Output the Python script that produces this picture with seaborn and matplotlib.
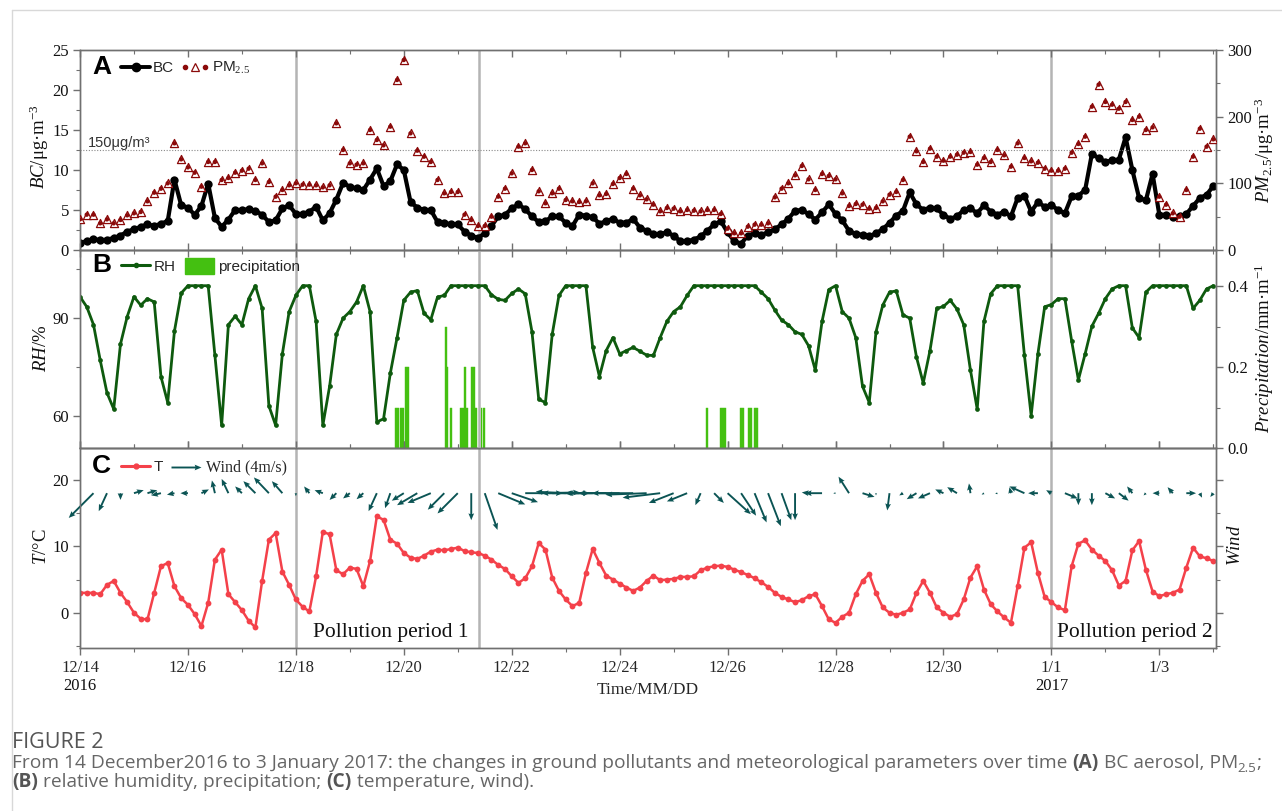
import numpy as np
import pandas as pd
import matplotlib
matplotlib.use("Agg")
import matplotlib.pyplot as plt
import seaborn as sns
from matplotlib.lines import Line2D
from matplotlib.patches import Patch
from matplotlib.legend_handler import HandlerTuple
from matplotlib.ticker import MultipleLocator, FixedLocator, FormatStrFormatter
import matplotlib.transforms as mtrans

# ---------------- data (3-hourly, days since 2016-12-14 00:00) ----------------
STEP_DAYS = 0.125

BC = [
    0.9, 1.1, 1.4, 1.2, 1.3, 1.5, 1.8, 2.3,
    2.6, 2.9, 3.2, 3.0, 3.3, 3.6, 8.8, 5.6,
    5.3, 4.4, 5.5, 8.3, 4.0, 2.9, 3.8, 5.0,
    5.0, 5.1, 4.9, 4.4, 3.5, 3.7, 5.2, 5.6,
    4.5, 4.5, 4.8, 5.4, 3.7, 4.6, 6.3, 8.4,
    7.9, 7.7, 7.5, 8.8, 10.2, 8.0, 8.6, 10.7,
    10.0, 6.0, 5.3, 5.0, 5.0, 3.5, 3.4, 3.2,
    3.2, 2.3, 1.8, 1.5, 2.1, 3.0, 4.2, 4.4,
    5.2, 5.7, 5.1, 4.2, 3.5, 3.6, 4.2, 4.2,
    3.4, 3.0, 4.4, 4.3, 4.1, 3.3, 3.6, 3.9,
    3.4, 3.4, 3.9, 2.8, 2.4, 2.0, 2.0, 2.2,
    1.8, 1.1, 1.1, 1.3, 1.7, 2.4, 3.2, 3.6,
    2.2, 1.1, 0.8, 1.8, 2.1, 1.9, 2.2, 2.6,
    3.2, 3.9, 4.9, 5.0, 4.5, 3.8, 4.7, 5.7,
    4.5, 3.7, 2.4, 2.0, 1.9, 1.7, 2.1, 2.6,
    3.4, 4.3, 4.9, 7.2, 5.7, 5.0, 5.3, 5.2,
    4.4, 3.9, 4.2, 5.0, 5.2, 4.6, 5.6, 4.8,
    4.4, 4.8, 4.2, 6.5, 6.8, 4.8, 6.0, 5.4,
    5.6, 5.0, 4.6, 6.7, 6.8, 7.5, 12.0, 11.5,
    11.0, 11.2, 11.3, 14.1, 10.0, 6.5, 6.2, 9.5,
    4.4, 4.4, 4.1, 4.2, 4.5, 5.5, 6.5, 6.9,
    8.0,
]

PM25 = [
    46, 53, 53, 40, 46, 40, 45, 52,
    55, 57, 73, 86, 92, 100, 160, 136,
    124, 116, 95, 132, 132, 105, 108, 116,
    119, 122, 105, 130, 102, 80, 90, 97,
    100, 98, 98, 97, 94, 97, 190, 150,
    130, 128, 130, 180, 165, 157, 185, 255,
    285, 175, 149, 140, 132, 105, 85, 87,
    87, 53, 45, 36, 36, 50, 80, 92,
    115, 155, 160, 120, 88, 70, 85, 92,
    75, 73, 72, 73, 100, 82, 84, 99,
    108, 114, 92, 82, 76, 68, 58, 63,
    62, 58, 60, 59, 58, 60, 60, 54,
    32, 25, 25, 35, 38, 38, 40, 79,
    92, 100, 112, 126, 106, 90, 114, 111,
    106, 85, 66, 69, 68, 62, 63, 73,
    83, 87, 105, 170, 148, 132, 152, 140,
    134, 140, 143, 146, 147, 128, 138, 132,
    150, 142, 125, 160, 138, 133, 131, 122,
    119, 119, 122, 146, 159, 170, 215, 248,
    222, 218, 212, 222, 195, 200, 180, 184,
    80, 68, 55, 50, 90, 140, 182, 155,
    166,
]

RH = [
    96.6, 93.5, 88, 77, 67, 62, 82, 90.5,
    96.6, 94, 96, 95, 72, 64, 86, 97.7,
    100, 100, 100, 100, 78.6, 57, 88, 90.6,
    88, 96, 100, 93, 63, 57, 79, 92,
    97, 100, 100, 89, 57, 69, 85, 90,
    92, 95, 100, 92, 58, 59, 73, 84,
    95.5, 98, 98.5, 91.5, 89.5, 96.5, 97, 100,
    100, 100, 100, 100, 100, 97.2, 95.8, 95.5,
    97.6, 99, 97.5, 85.8, 65, 64, 85, 97,
    100, 100, 100, 100, 81, 72, 80, 84,
    79, 80, 81, 79.8, 78.6, 78.5, 84, 89,
    92, 93.5, 97, 100, 100, 100, 100, 100,
    100, 100, 100, 100, 100, 98, 96, 92.5,
    89.4, 88, 85.8, 85, 81.5, 74, 89, 98.8,
    100, 92, 90, 84, 69, 64, 85.8, 94,
    98, 98.4, 91, 90, 78, 70, 80, 93,
    93.6, 95.5, 92.8, 88, 74, 62, 89, 97.5,
    100, 100, 100, 100, 78.6, 60, 79, 93.5,
    94.2, 96, 96, 83, 71, 79, 87.5, 91.5,
    96, 99, 100, 100, 87, 84, 98, 100,
    100, 100, 100, 100, 100, 93, 95.5, 99,
    100,
]

TEMP = [
    3.0, 3.0, 3.0, 2.8, 4.2, 4.8, 3.0, 1.6,
    0.0, -0.9, -1.0, 3.0, 7.0, 7.5, 4.0, 2.2,
    1.2, -0.2, -2.0, 1.5, 8.0, 9.5, 2.8, 1.6,
    0.4, -1.2, -2.2, 4.8, 11.0, 12.0, 6.2, 4.2,
    2.0, 0.9, 0.2, 5.5, 12.2, 11.8, 6.4, 5.8,
    6.8, 6.6, 4.0, 7.8, 14.5, 14.0, 11.0, 10.4,
    9.0, 8.3, 8.1, 8.6, 9.2, 9.5, 9.4, 9.6,
    9.8, 9.3, 9.1, 9.0, 8.6, 8.0, 7.2, 6.6,
    5.5, 4.5, 5.2, 7.0, 10.5, 9.5, 5.3, 3.3,
    2.0, 1.0, 1.5, 6.0, 9.6, 7.5, 5.6, 5.0,
    4.4, 3.8, 3.3, 3.8, 4.8, 5.6, 4.9, 5.0,
    5.1, 5.4, 5.4, 5.5, 6.4, 6.8, 7.0, 7.1,
    6.9, 6.5, 6.1, 5.7, 5.2, 4.6, 3.9, 3.0,
    2.4, 2.0, 1.6, 1.9, 2.5, 2.8, 1.0, -1.0,
    -1.5, -0.6, 0.0, 2.8, 4.8, 5.8, 3.0, 0.8,
    0.0, -0.3, 0.0, 0.5, 3.0, 4.8, 3.0, 0.8,
    0.0, -0.6, -0.2, 2.0, 5.3, 7.0, 3.5, 1.3,
    0.2, -0.7, -1.5, 4.0, 9.8, 10.6, 6.0, 2.4,
    1.6, 0.8, 0.4, 7.0, 10.4, 10.9, 9.5, 8.6,
    7.8, 6.4, 4.1, 4.8, 9.4, 10.8, 6.5, 3.2,
    2.5, 2.8, 3.0, 3.5, 6.8, 9.8, 8.5, 8.2,
    7.8,
]

# hourly precipitation events (day, mm)
PREC_DAY = [5.85, 5.89, 5.95, 5.99, 6.04, 6.08, 6.78, 6.81, 6.87, 7.06, 7.10,
            7.14, 7.17, 7.26, 7.30, 7.34, 7.44, 7.48,
            11.61, 11.88, 11.92, 11.96, 12.24, 12.28, 12.40, 12.44, 12.50, 12.54]
PREC_MM = [0.1, 0.1, 0.1, 0.1, 0.2, 0.2, 0.3, 0.2, 0.1, 0.1, 0.1,
           0.2, 0.1, 0.2, 0.2, 0.1, 0.1, 0.1,
           0.1, 0.1, 0.1, 0.1, 0.1, 0.1, 0.1, 0.1, 0.1, 0.1]

# 6-hourly wind vectors (m/s), first at 12/14 06:00
WIND_STEP_DAYS = 0.25
WIND_U = [-3.3, -1.1, 0.0, 1.3,   1.3, -1.3, -1.0, -1.0,   1.0, -0.4, -0.9, -0.9,
          -1.6, -2.0, -1.4, 0.0,  -0.7, -1.1, -0.9, -0.9,  -0.9, -1.1, -0.7, -1.6,
          -2.7, -3.1, -2.2, -2.7,  0.0, 1.7, 3.6, 3.5,     5.0, 5.5, 5.0, -4.0,
          -5.0, -3.5, -5.5, -5.5, -5.5, -5.5, -5.0, -3.3,  -2.7, -0.7, 1.3, 3.1,
          2.0, 1.6, 1.7, 1.3,      0.0, -0.9, -2.3, -0.3,  -1.4, 1.6, 0.0, -0.3,
          -0.5, -1.3, -1.6, -1.1, -1.3, -0.2, -0.3, -0.3,  -0.2, -2.0, -1.3, -0.7,
          1.7, 0.0, 0.0, 1.3,      1.3, -0.7, -0.3, -0.9,  -0.7, 1.3, 0.3, -0.4]
WIND_V = [-3.3, -2.4, -0.9, 0.4,   0.4, -0.3, -0.2, 0.0,   0.5, 1.7, 1.9, 0.9,
          1.6, 2.1, 1.6, -0.4,     0.9, 0.4, -0.9, -0.7,   -0.8, -2.4, -2.0, -1.0,
          -1.6, -1.3, -2.2, -2.7,  -3.6, -4.9, -1.5, -1.2,  0.0, 0.1, 0.0, 0.2,
          0.0, 0.0, 0.0, 0.0,      0.0, -0.2, -0.6, -1.3,  -1.1, -1.6, -1.3, -2.8,
          -3.0, -3.9, -4.4, -3.6,  -3.6, 0.1, 0.0, 0.0,    2.2, -0.5, -0.3, -2.3,
          -0.3, -0.8, -0.7, 0.5,   0.8, 1.3, -0.2, -0.1,   0.8, 0.9, 0.0, 0.4,
          -0.7, -1.6, -1.6, -0.7,  -1.0, 0.9, -0.3, 0.0,   0.8, 0.0, -0.6, -0.5]

XTICK_DAYS = list(range(0, 21, 2))
XTICK_LABELS = ["12/14", "12/16", "12/18", "12/20", "12/22", "12/24",
                "12/26", "12/28", "12/30", "1/1", "1/3"]
YEAR_DAYS = [0, 18]
YEAR_LABELS = ["2016", "2017"]
PERIOD_LINE_DAYS = [4.0, 7.4, 18.0]
PERIOD_LABEL_DAYS = [5.75, 19.55]
PERIOD_LABELS = ["Pollution period 1", "Pollution period 2"]
PM_LIMIT = 150

# ---------------- styles ----------------
C_BC = "#000000"
C_PM = "#8B0A0A"
C_RH = "#0E5A0E"
C_PREC = "#44C011"
C_T = "#F4414A"
C_WIND = "#0B5454"
C_SPINE = "#707070"
SERIF = "Liberation Serif"
SANS = "Liberation Sans"

sns.set_style("ticks")
plt.rcParams["font.family"] = [SERIF, "DejaVu Serif"]
plt.rcParams["mathtext.fontset"] = "custom"
plt.rcParams["mathtext.rm"] = SERIF
plt.rcParams["mathtext.it"] = SERIF + ":italic"
plt.rcParams["mathtext.bf"] = SERIF + ":bold"

W_PX, H_PX = 1282, 811
fig = plt.figure(figsize=(W_PX / 100, H_PX / 100), dpi=100)
fig.patch.set_facecolor("white")


def fx(px):
    return px / W_PX


def fy(py):
    return 1 - py / H_PX


L = fx(80)
WD = (1216 - 80) / W_PX
axA = fig.add_axes([L, fy(250), WD, 200 / H_PX])
axB = fig.add_axes([L, fy(448), WD, 198 / H_PX])
axC = fig.add_axes([L, fy(648), WD, 200 / H_PX])

t = np.arange(len(BC)) * STEP_DAYS
df = pd.DataFrame({"day": t, "BC": BC, "PM25": PM25, "RH": RH, "T": TEMP})
wind_day = (np.arange(len(WIND_U)) + 1) * WIND_STEP_DAYS

XMAX = 21.05

# ---- panel A ----
axA2 = axA.twinx()
sns.scatterplot(data=df, x="day", y="PM25", ax=axA2, marker="^", s=34,
                color="white", edgecolor=C_PM, linewidth=0.9, legend=False, zorder=3)
sns.scatterplot(data=df, x="day", y="PM25", ax=axA2, marker="o", s=10,
                color=C_PM, edgecolor="none", legend=False, zorder=4)
sns.lineplot(data=df, x="day", y="BC", ax=axA, color=C_BC, marker="o",
             markersize=6, markeredgewidth=0, linewidth=3.0, errorbar=None,
             legend=False, zorder=3)
axA.set_ylim(0, 25)
axA2.set_ylim(0, 300)
axA2.axhline(PM_LIMIT, color="#8a8a8a", ls=(0, (1, 1.5)), lw=0.8, zorder=1)
fig.text(fx(88), fy(143), "150μg/m³", family=SANS, fontsize=10.5, color="#333333",
         ha="left", va="center")

# ---- panel B ----
axB2 = axB.twinx()
axB2.bar(PREC_DAY, PREC_MM, width=0.036, color=C_PREC, edgecolor=C_PREC, lw=0.3)
sns.lineplot(data=df, x="day", y="RH", ax=axB, color=C_RH, marker="o",
             markersize=3.4, markeredgewidth=0, linewidth=2.0, errorbar=None,
             legend=False)
axB.set_zorder(axB2.get_zorder() + 1)
axB.patch.set_visible(False)
axB.set_ylim(50, 111)
axB2.set_ylim(0, 0.49)

# ---- panel C ----
sns.lineplot(data=df, x="day", y="T", ax=axC, color=C_T, marker="o",
             markersize=4.2, markeredgewidth=0, linewidth=1.8, errorbar=None,
             legend=False)
WIND_ROW_T = 18.0
Q = axC.quiver(wind_day, np.full(len(wind_day), WIND_ROW_T), WIND_U, WIND_V,
               pivot="tail", color=C_WIND, units="inches", width=0.019,
               scale_units="inches", scale=1 / 0.075, headwidth=3.0,
               headlength=3.6, headaxislength=3.2, zorder=4)
Q.set_clip_on(False)
axC.set_ylim(-5.3, 24.8)
axC2 = axC.twinx()
axC2.set_ylim(axC.get_ylim())

# ---- common x axis ----
for ax in (axA, axB, axC, axA2, axB2, axC2):
    ax.set_xlim(0, XMAX)
    ax.set_xlabel("")
    ax.set_ylabel("")
    for s in ax.spines.values():
        s.set_color(C_SPINE)
        s.set_linewidth(1.0)

for ax in (axA, axB, axC):
    for d in PERIOD_LINE_DAYS:
        ax.axvline(d, color="#b4b4b4", lw=1.8, zorder=0.5)
    ax.xaxis.set_major_locator(FixedLocator(XTICK_DAYS))
    ax.xaxis.set_minor_locator(MultipleLocator(1))

for ax in (axA, axB):
    ax.tick_params(axis="x", which="both", direction="in", top=True, bottom=True,
                   labelbottom=False, color=C_SPINE)
axC.tick_params(axis="x", which="both", direction="out", top=True, bottom=True,
                labelbottom=True, color=C_SPINE, labelsize=12, pad=4)
axC.set_xticks(XTICK_DAYS)
axC.set_xticklabels(XTICK_LABELS)
for ax in (axA, axB, axC, axA2, axB2, axC2):
    ax.tick_params(which="major", length=5, width=1.0)
    ax.tick_params(which="minor", length=3, width=0.8)
    ax.tick_params(axis="y", which="both", direction="out", color=C_SPINE,
                   labelsize=12, labelcolor="#111111", pad=3)

axA.yaxis.set_major_locator(MultipleLocator(5))
axA.yaxis.set_minor_locator(MultipleLocator(2.5))
axA2.yaxis.set_major_locator(MultipleLocator(100))
axA2.yaxis.set_minor_locator(MultipleLocator(50))
axB.yaxis.set_major_locator(FixedLocator([60, 90]))
axB.yaxis.set_minor_locator(FixedLocator([75, 105]))
axB2.yaxis.set_major_locator(FixedLocator([0.0, 0.2, 0.4]))
axB2.yaxis.set_minor_locator(FixedLocator([0.1, 0.3]))
axB2.yaxis.set_major_formatter(FormatStrFormatter("%.1f"))
axC.yaxis.set_major_locator(FixedLocator([0, 10, 20]))
axC.yaxis.set_minor_locator(FixedLocator([-5, 5, 15]))
axC2.yaxis.set_major_locator(FixedLocator([0, 10, 20]))
axC2.yaxis.set_minor_locator(FixedLocator([-5, 5, 15]))
axC2.tick_params(axis="y", which="both", labelright=False)

# years under the ticks
yr_tr = mtrans.blended_transform_factory(axC.transData, fig.transFigure)
for d, lab in zip(YEAR_DAYS, YEAR_LABELS):
    fig.text(d, fy(686), lab, transform=yr_tr, ha="center", va="center",
             fontsize=12, color="#111111")
fig.text(fx(648), fy(690), "Time/MM/DD", ha="center", va="center", fontsize=12.5)

for d, lab in zip(PERIOD_LABEL_DAYS, PERIOD_LABELS):
    axC.text(d, -2.9, lab, ha="center", va="center", fontsize=15.5, color="#111111",
             zorder=5)

# axis titles
lab_kw = dict(rotation=90, ha="center", va="center", fontsize=13.5, color="#111111")
fig.text(fx(39), fy(146), r"$BC$/μg·m$^{-3}$", **lab_kw)
fig.text(fx(42), fy(348), r"$RH$/%", **lab_kw)
fig.text(fx(42), fy(547), r"$T$/°C", **lab_kw)
fig.text(fx(1264), fy(150), r"$PM_{2.5}$/μg·m$^{-3}$", **lab_kw)
fig.text(fx(1264), fy(348), r"$Precipitation$/mm·m$^{-1}$", **lab_kw)
fig.text(fx(1236), fy(545), r"$Wind$", **lab_kw)

# panel letters
for letter, py in (("A", 67), ("B", 265), ("C", 466)):
    fig.text(fx(92), fy(py), letter, family=SANS, fontweight="bold", fontsize=19,
             ha="left", va="center", color="#000000")

sans_prop = {"family": SANS, "size": 11}
legA = axA.legend(
    handles=[Line2D([], [], color=C_BC, marker="o", ms=6, lw=2.8),
             (Line2D([], [], ls="", marker="o", ms=3, color=C_PM),
              Line2D([], [], ls="", marker="^", ms=6, mfc="white", mec=C_PM, mew=0.9),
              Line2D([], [], ls="", marker="o", ms=3, color=C_PM))],
    labels=["BC", "PM$_{2.5}$"], loc="center left",
    bbox_to_anchor=(fx(121), fy(68)), bbox_transform=fig.transFigure,
    frameon=False, ncol=2, handlelength=1.9, handletextpad=0.2, columnspacing=0.4,
    borderpad=0, borderaxespad=0, prop=sans_prop,
    handler_map={tuple: HandlerTuple(ndivide=None, pad=0.1)})

legB = axB.legend(
    handles=[Line2D([], [], color=C_RH, marker="o", ms=3, lw=2.2),
             Patch(facecolor=C_PREC, edgecolor=C_PREC)],
    labels=["RH", "precipitation"], loc="center left",
    bbox_to_anchor=(fx(121), fy(266)), bbox_transform=fig.transFigure,
    frameon=False, ncol=2, handlelength=1.9, handleheight=1.2, handletextpad=0.25,
    columnspacing=0.6, borderpad=0, borderaxespad=0, prop=sans_prop)

legC = axC.legend(
    handles=[Line2D([], [], color=C_T, marker="o", ms=3.5, lw=2.2)],
    labels=["T"], loc="center left",
    bbox_to_anchor=(fx(121), fy(467)), bbox_transform=fig.transFigure,
    frameon=False, handlelength=1.9, handletextpad=0.25,
    borderpad=0, borderaxespad=0, prop=sans_prop)
# with labelpos "E" the key arrow's tip sits at X
axC.quiverkey(Q, fx(201), fy(467), 4, "Wind (4m/s)", labelpos="E",
              coordinates="figure", color=C_WIND, labelsep=0.05,
              fontproperties={"family": SERIF, "size": 11.5})

# figure frame lines
fig.add_artist(Line2D([fx(12), 1], [fy(10), fy(10)], color="#d8d8d8", lw=1,
                      transform=fig.transFigure))
fig.add_artist(Line2D([fx(12), fx(12)], [fy(10), 0], color="#d8d8d8", lw=1,
                      transform=fig.transFigure))

# ---------------- caption ----------------
fig.canvas.draw()
renderer = fig.canvas.get_renderer()
CAP_FONT = "Open Sans"


def text_width(s, **kw):
    tt = fig.text(0, 0, "|" + s + "|", **kw)
    w1 = tt.get_window_extent(renderer=renderer).width
    tt.remove()
    tt = fig.text(0, 0, "||", **kw)
    w0 = tt.get_window_extent(renderer=renderer).width
    tt.remove()
    return w1 - w0


def draw_runs(x_px, y_px, runs, size):
    x = x_px
    for txt, kw in runs:
        kw = dict(kw)
        dy = kw.pop("dy", 0)
        base = dict(family=CAP_FONT, fontsize=size, color="#666666")
        base.update(kw)
        fig.text(fx(x), fy(y_px + dy), txt, ha="left", va="baseline", **base)
        x += text_width(txt, **base)


CAP = 13.8
draw_runs(12, 748, [("FIGURE 2", dict(color="#555555"))], 15.5)
draw_runs(12, 768, [
    ("From 14 December2016 to 3 January 2017: the changes in ground pollutants and "
     "meteorological parameters over time ", {}),
    ("(A)", dict(fontweight="bold", color="#555555")),
    (" BC aerosol, PM", {}),
    ("2.5", dict(fontsize=CAP * 0.7, dy=4)),
    (";", {}),
], CAP)
draw_runs(12, 787, [
    ("(B)", dict(fontweight="bold", color="#555555")),
    (" relative humidity, precipitation; ", {}),
    ("(C)", dict(fontweight="bold", color="#555555")),
    (" temperature, wind).", {}),
], CAP)

fig.savefig("out.png", dpi=100)
